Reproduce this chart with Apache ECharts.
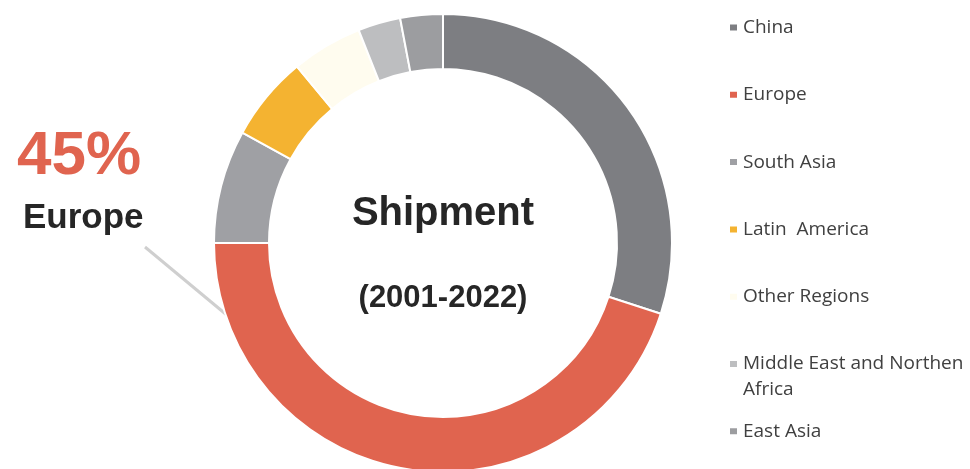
<!DOCTYPE html>
<html>
<head>
<meta charset="utf-8">
<script src="https://cdn.jsdelivr.net/npm/echarts@6/dist/echarts.min.js"></script>
<style>
  html, body { margin: 0; padding: 0; background: #fff; }
  #chart { width: 970px; height: 469px; }
</style>
</head>
<body>
<div id="chart"></div>
<script>
// shipment share by region, clockwise from 12 o'clock
var regions = ['China', 'Europe', 'South Asia', 'Latin  America', 'Other Regions', 'Middle East and Northen\nAfrica', 'East Asia'];
var shares = [30, 45, 8, 6, 5, 3, 3];
var centerTitle = 'Shipment';
var centerSub = '(2001-2022)';
var calloutIndex = 1;

var colours = ['#7d7e82', '#e0644f', '#9fa0a4', '#f4b331', '#fffcef', '#bdbec0', '#9c9da0'];

var chartDom = document.getElementById('chart');
var myChart = echarts.init(chartDom);

var lineH = 26;
var legends = regions.map(function (name, i) {
    var twoLine = name.indexOf('\n') >= 0;
    // a blank first line keeps the icon level with the first text line
    return {
        data: [name],
        formatter: twoLine ? function (n) { return '\n' + n; } : '{name}',
        orient: 'vertical',
        left: 728,
        top: 27.5 + i * 67.3 - (twoLine ? 1.5 * lineH : lineH / 2),
        padding: 0,
        icon: 'rect',
        itemWidth: 9,
        itemHeight: 8,
        selectedMode: false,
        textStyle: {
            fontFamily: 'Open Sans',
            fontSize: 19,
            lineHeight: lineH,
            color: '#404040'
        }
    };
});

var option = {
    animation: false,
    color: colours,
    legend: legends,
    series: [
        {
            type: 'pie',
            center: [443, 243],
            radius: [174, 229],
            startAngle: 90,
            clockwise: true,
            avoidLabelOverlap: false,
            label: { show: false },
            labelLine: { show: false },
            emphasis: { disabled: true },
            itemStyle: { borderColor: '#ffffff', borderWidth: 2 },
            data: regions.map(function (name, i) {
                return { name: name, value: shares[i] };
            })
        }
    ],
    graphic: [
        {
            type: 'text',
            style: {
                text: centerTitle, x: 443, y: 214, align: 'center', verticalAlign: 'middle',
                font: 'bold 40px "Liberation Sans"', fill: '#262626'
            }
        },
        {
            type: 'text',
            style: {
                text: centerSub, x: 443, y: 298, align: 'center', verticalAlign: 'middle',
                font: 'bold 31px "Liberation Sans"', fill: '#262626'
            }
        },
        {
            type: 'text',
            style: {
                text: shares[calloutIndex] + '%', x: 17, y: 157, align: 'left', verticalAlign: 'middle',
                font: 'bold 62px "Liberation Sans"', fill: colours[calloutIndex]
            }
        },
        {
            type: 'text',
            style: {
                text: regions[calloutIndex], x: 23, y: 218, align: 'left', verticalAlign: 'middle',
                font: 'bold 35px "Liberation Sans"', fill: '#262626'
            }
        },
        {
            type: 'polyline',
            shape: { points: [[145, 247], [228, 316]] },
            style: { stroke: '#cfcfcf', lineWidth: 3 }
        }
    ]
};

option && myChart.setOption(option);
</script>
</body>
</html>
